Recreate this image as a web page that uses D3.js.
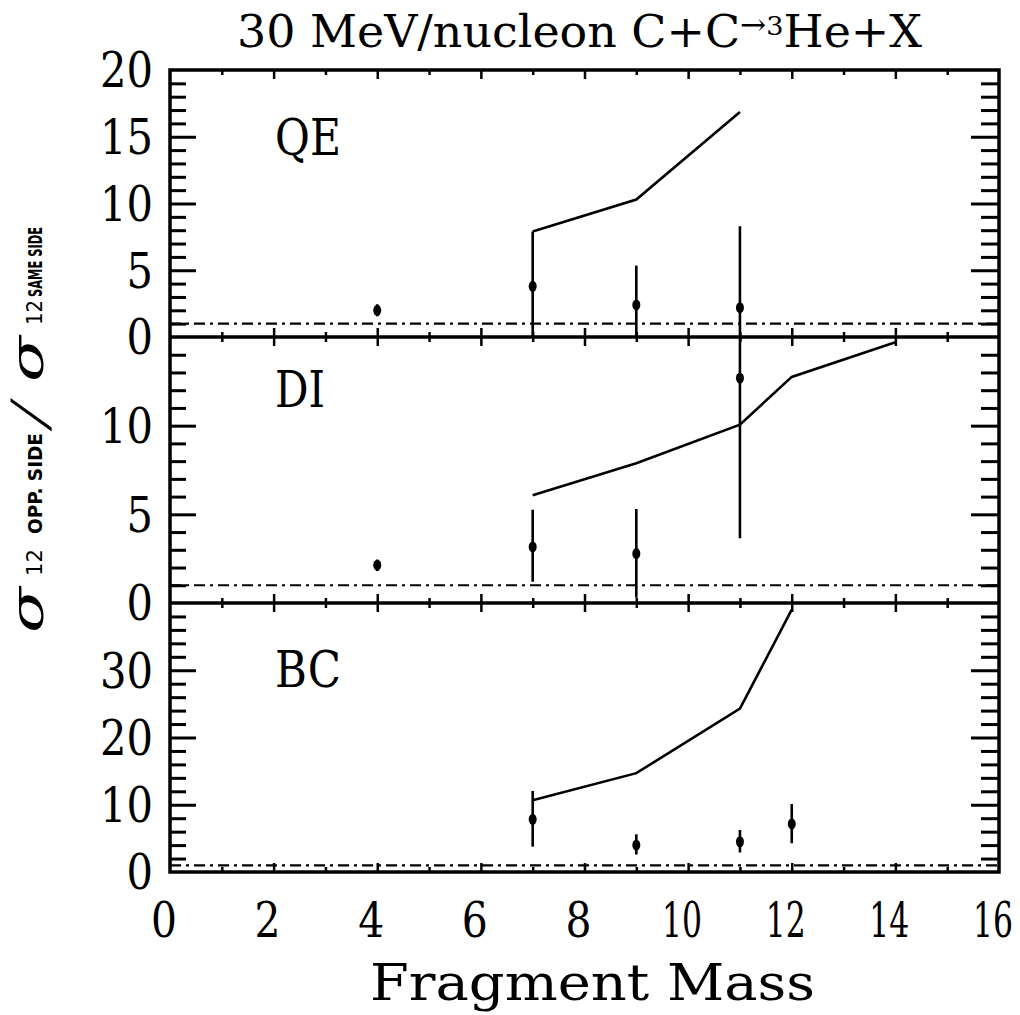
<!DOCTYPE html>
<html>
<head>
<meta charset="utf-8">
<script src="https://cdn.jsdelivr.net/npm/d3@7"></script>
<style>
  body { margin: 0; background: #fff; }
  svg { display: block; }
  text { fill: #000; }
</style>
</head>
<body>
<script>
const width = 1020;
const height = 1015;

// data
const massQE = [4, 7, 9, 11];
const ratioQE = [2.0, 3.8, 2.4, 2.2];
const lowQE = [1.55, 0, 0, -1];
const highQE = [2.45, 7.9, 5.35, 8.3];
const theoryMassQE = [7, 9, 11];
const theoryQE = [7.9, 10.3, 16.85];

const massDI = [4, 7, 9, 11];
const ratioDI = [2.13, 3.16, 2.79, 12.68];
const lowDI = [1.8, 1.2, 0.3, 3.65];
const highDI = [2.45, 5.26, 5.3, 16];
const theoryMassDI = [7, 9, 11, 12, 14];
const theoryDI = [6.07, 7.88, 10.06, 12.75, 14.7];

const massBC = [7, 9, 11, 12];
const ratioBC = [7.84, 4.0, 4.5, 7.14];
const lowBC = [3.77, 2.6, 2.9, 4.27];
const highBC = [12.05, 5.6, 6.25, 10.1];
const theoryMassBC = [7, 9, 11, 12];
const theoryBC = [10.66, 14.7, 24.3, 39.0];

const unityLevel = 1;
const xTickLabels = [0, 2, 4, 6, 8, 10, 12, 14, 16];

// layout
const left = 170, right = 999;
const panels = [
  { name: 'QE', top: 70, bottom: 337, max: 20, major: 5, minor: 1, labels: [0, 5, 10, 15, 20],
    mass: massQE, ratio: ratioQE, low: lowQE, high: highQE, tMass: theoryMassQE, theory: theoryQE },
  { name: 'DI', top: 337, bottom: 603, max: 15, major: 5, minor: 1, labels: [0, 5, 10],
    mass: massDI, ratio: ratioDI, low: lowDI, high: highDI, tMass: theoryMassDI, theory: theoryDI },
  { name: 'BC', top: 603, bottom: 872, max: 40, major: 10, minor: 2, labels: [0, 10, 20, 30],
    mass: massBC, ratio: ratioBC, low: lowBC, high: highBC, tMass: theoryMassBC, theory: theoryBC }
];

const svg = d3.select('body').append('svg')
  .attr('width', width)
  .attr('height', height);

const x = d3.scaleLinear().domain([0, 16]).range([left, right]);
const xMinor = d3.range(0, 17, 1).filter(v => v % 2 !== 0);
const xMajor = d3.range(0, 17, 2).filter(v => v > 0 && v < 16);

const serif = 'DejaVu Serif';

panels.forEach((p, i) => {
  const y = d3.scaleLinear().domain([0, p.max]).range([p.bottom, p.top]);
  const g = svg.append('g');

  const clipId = 'clip' + i;
  svg.append('clipPath').attr('id', clipId)
    .append('rect')
    .attr('x', left).attr('y', p.top)
    .attr('width', right - left).attr('height', p.bottom - p.top);

  const yMajor = d3.range(0, p.max + 0.001, p.major).filter(v => v > 0 && v < p.max);
  const yMinor = d3.range(0, p.max + 0.001, p.minor).filter(v => v > 0 && v < p.max && v % p.major !== 0);

  // left/right ticks (inward)
  const tickAxis = (axisFn, vals, size, xpos) => {
    const a = g.append('g')
      .attr('transform', `translate(${xpos},0)`)
      .call(axisFn(y).tickValues(vals).tickSize(size).tickFormat(''));
    a.select('.domain').remove();
    a.selectAll('line').attr('stroke', '#000').attr('stroke-width', 3);
  };
  tickAxis(d3.axisLeft, yMinor, -16, left);
  tickAxis(d3.axisLeft, yMajor, -26, left);
  tickAxis(d3.axisRight, yMinor, -18, right);
  tickAxis(d3.axisRight, yMajor, -28, right);

  // top/bottom x ticks (inward)
  const xTicks = (axisFn, vals, size, ypos) => {
    const a = g.append('g')
      .attr('transform', `translate(0,${ypos})`)
      .call(axisFn(x).tickValues(vals).tickSize(size).tickFormat(''));
    a.select('.domain').remove();
    a.selectAll('line').attr('stroke', '#000').attr('stroke-width', 2.5);
  };
  xTicks(d3.axisTop, xMinor, -5, p.top);
  xTicks(d3.axisTop, xMajor, -9, p.top);
  xTicks(d3.axisBottom, xMinor, -5, p.bottom);
  xTicks(d3.axisBottom, xMajor, -9, p.bottom);

  // y labels
  g.selectAll('.ylab')
    .data(p.labels)
    .enter().append('text')
    .attr('x', 153)
    .attr('y', d => y(d))
    .attr('dy', '0.36em')
    .attr('text-anchor', 'end')
    .attr('font-family', serif)
    .attr('font-size', 48)
    .attr('textLength', d => String(d).length * 26.5)
    .attr('lengthAdjust', 'spacingAndGlyphs')
    .text(d => d);

  // panel name
  g.append('text')
    .attr('x', 275)
    .attr('y', p.top + [85, 70, 84][i])
    .attr('font-family', serif)
    .attr('font-size', 50)
    .attr('textLength', p.name === 'DI' ? 50 : 66)
    .attr('lengthAdjust', 'spacingAndGlyphs')
    .text(p.name);

  const data = g.append('g').attr('clip-path', `url(#${clipId})`);

  // unity reference line
  data.append('line')
    .attr('x1', x(0)).attr('x2', x(16))
    .attr('y1', y(unityLevel)).attr('y2', y(unityLevel))
    .attr('stroke', '#000')
    .attr('stroke-width', 2.2)
    .attr('stroke-dasharray', '11,5,3,5');

  // theory curve
  const line = d3.line().x(d => x(d[0])).y(d => y(d[1]));
  data.append('path')
    .datum(p.tMass.map((m, k) => [m, p.theory[k]]))
    .attr('d', line)
    .attr('fill', 'none')
    .attr('stroke', '#000')
    .attr('stroke-width', 2.6);

  const pts = p.mass.map((m, k) => ({ m, v: p.ratio[k], lo: p.low[k], hi: p.high[k] }));

  // error bars
  data.selectAll('.err')
    .data(pts)
    .enter().append('line')
    .attr('x1', d => x(d.m)).attr('x2', d => x(d.m))
    .attr('y1', d => y(d.lo)).attr('y2', d => y(d.hi))
    .attr('stroke', '#000')
    .attr('stroke-width', 2.6);

  // markers
  data.selectAll('.pt')
    .data(pts)
    .enter().append('ellipse')
    .attr('cx', d => x(d.m))
    .attr('cy', d => y(d.v))
    .attr('rx', 4)
    .attr('ry', 5.5)
    .attr('fill', '#000');
});

// frame and panel separators
svg.append('rect')
  .attr('x', left).attr('y', panels[0].top)
  .attr('width', right - left).attr('height', panels[2].bottom - panels[0].top)
  .attr('fill', 'none')
  .attr('stroke', '#000')
  .attr('stroke-width', 3.5);

svg.selectAll('.sep')
  .data(panels.slice(0, 2))
  .enter().append('line')
  .attr('x1', left).attr('x2', right)
  .attr('y1', d => d.bottom).attr('y2', d => d.bottom)
  .attr('stroke', '#000')
  .attr('stroke-width', 3.5);

// x tick labels
const xLabelWidth = d => String(d).length > 1 ? 40 : 26;
svg.selectAll('.xlab')
  .data(xTickLabels)
  .enter().append('text')
  .attr('x', d => x(d) - 6)
  .attr('y', 937)
  .attr('text-anchor', 'middle')
  .attr('font-family', serif)
  .attr('font-size', 40)
  .attr('transform', d => `translate(${x(d) - 6},937) scale(1,1.2) translate(${-(x(d) - 6)},-937)`)
  .attr('textLength', xLabelWidth)
  .attr('lengthAdjust', 'spacingAndGlyphs')
  .text(d => d);

// x axis title
svg.append('text')
  .attr('x', 370)
  .attr('y', 1000)
  .attr('font-family', serif)
  .attr('font-size', 51)
  .attr('textLength', 445)
  .attr('lengthAdjust', 'spacingAndGlyphs')
  .text('Fragment Mass');

// chart title
const title = svg.append('text')
  .attr('x', 237)
  .attr('y', 47)
  .attr('font-family', serif)
  .attr('font-size', 44)
  .attr('textLength', 685)
  .attr('lengthAdjust', 'spacingAndGlyphs');
title.append('tspan').text('30 MeV/nucleon C+C');
title.append('tspan').attr('font-size', 30).attr('dy', -12).text('→');
title.append('tspan').attr('font-size', 26).text('3');
title.append('tspan').attr('dy', 12).text('He+X');

// y axis title: sigma_12 opp. side / sigma_12 same side
const ylab = svg.append('g').attr('transform', 'translate(43,0) rotate(-90)');
const piece = (txt, yStart, len, size, family, opts = {}) => {
  const t = ylab.append('text')
    .attr('x', -yStart)
    .attr('y', opts.v || 0)
    .attr('font-family', family)
    .attr('font-size', size)
    .text(txt);
  if (len) t.attr('textLength', len).attr('lengthAdjust', 'spacingAndGlyphs');
  if (opts.italic) t.attr('font-style', 'italic');
  if (opts.bold) t.attr('font-weight', 'bold');
  if (opts.skew) t.attr('transform', `skewX(${opts.skew})`);
};
piece('σ', 633, 46, 46, serif, { italic: true });
piece('12', 576, 27, 22, 'DejaVu Sans', { v: -1 });
piece('OPP. SIDE', 534, 101, 19, 'DejaVu Sans', { bold: true, v: -1 });
piece('/', 428, null, 50, serif, { v: 4, skew: -22 });
piece('σ', 382, 46, 46, serif, { italic: true });
piece('12', 325, 25, 22, 'DejaVu Sans', { v: -1 });
piece('SAME SIDE', 297, 70, 19, 'DejaVu Sans', { bold: true, v: -1 });
</script>
</body>
</html>
